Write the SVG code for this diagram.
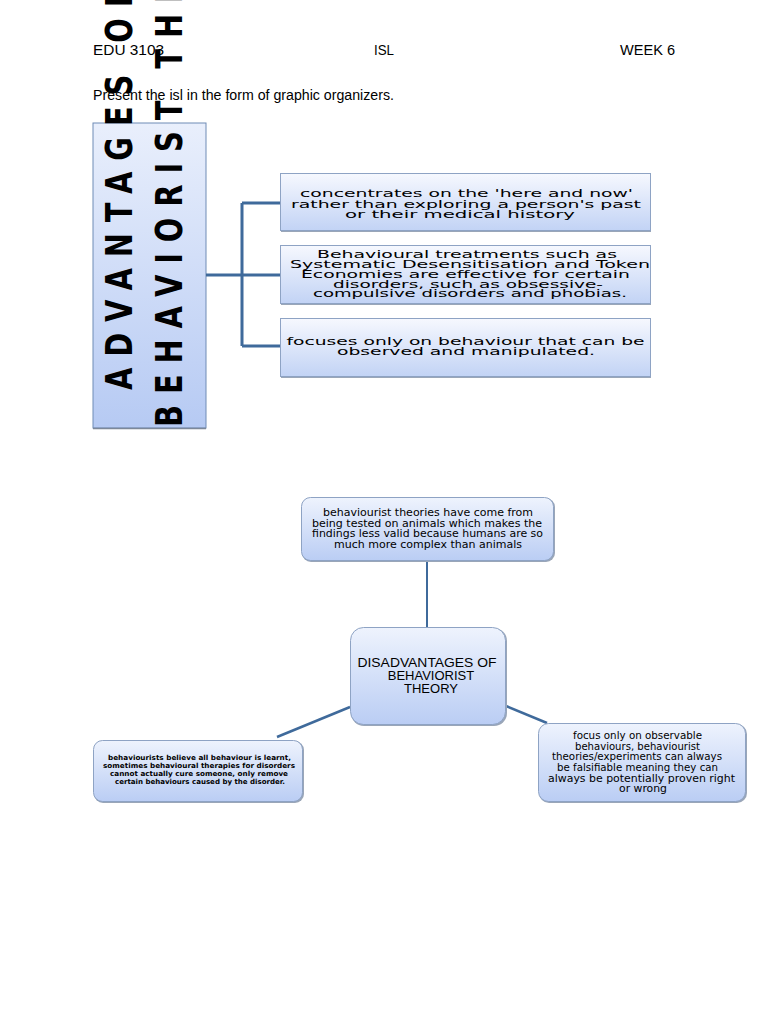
<svg xmlns="http://www.w3.org/2000/svg" width="768" height="1024" viewBox="0 0 768 1024">
<defs>
<linearGradient id="gBig" x1="0" y1="0" x2="0" y2="1">
<stop offset="0" stop-color="#e9effc"/>
<stop offset="1" stop-color="#b6caf3"/>
</linearGradient>
<linearGradient id="gBox" x1="0" y1="0" x2="0" y2="1">
<stop offset="0" stop-color="#f6f8fe"/>
<stop offset="1" stop-color="#c2d3f5"/>
</linearGradient>
<linearGradient id="gRound" x1="0" y1="0" x2="0" y2="1">
<stop offset="0" stop-color="#eef3fd"/>
<stop offset="1" stop-color="#bacdf4"/>
</linearGradient>
<style>
.hdr{font-family:"Liberation Sans",Arial,sans-serif;font-size:14px;fill:#000}
.vert{font-family:"DejaVu Sans",Verdana,sans-serif;font-size:37px;font-weight:bold;letter-spacing:14px;fill:#000}
.bx{fill:url(#gBox);stroke:#8ea3c4;stroke-width:1}
.sh{fill:#9aa6b8}
.rnd{fill:url(#gRound);stroke:#8ea3c4;stroke-width:1}
.t1{font-family:"DejaVu Sans",Verdana,sans-serif;font-size:10px;fill:#000;text-anchor:start}
.t2{font-family:"DejaVu Sans",Verdana,sans-serif;font-size:10px;fill:#000}
.t3{font-family:"DejaVu Sans",Verdana,sans-serif;font-size:7px;font-weight:bold;fill:#000}
.tc{font-family:"Liberation Sans",Arial,sans-serif;font-size:13px;fill:#000;text-anchor:middle}
.ln{stroke:#3f6a9b;fill:none}
</style>
</defs>
<rect width="768" height="1024" fill="#ffffff"/>

<g id="header">
<text class="hdr" x="93" y="55" textLength="71" lengthAdjust="spacingAndGlyphs">EDU 3103</text>
<text class="hdr" x="374" y="55" textLength="20" lengthAdjust="spacingAndGlyphs">ISL</text>
<text class="hdr" x="620" y="55" textLength="55" lengthAdjust="spacingAndGlyphs">WEEK 6</text>
<text class="hdr" x="93" y="100" textLength="301" lengthAdjust="spacingAndGlyphs">Present the isl in the form of graphic organizers.</text>
</g>

<g id="advantages-title">
<rect x="93" y="123" width="113" height="305" fill="url(#gBig)" stroke="#6f8bb5" stroke-width="1"/>
<line x1="93" y1="428.5" x2="206" y2="428.5" stroke="#7d8899" stroke-width="1.5"/>
<text class="vert" transform="translate(132,390) rotate(-90) scale(0.78,1)">ADVANTAGES OF</text>
<text class="vert" transform="translate(182,427) rotate(-90) scale(0.78,1)">BEHAVIORIST THEORY</text>
</g>

<g id="connectors">
<path class="ln" stroke-width="3" d="M206 275 H242 M242 203 V346 M242 203 H281 M242 275 H281 M242 346 H281"/>
<line class="ln" stroke-width="2" x1="427" y1="561" x2="427" y2="628"/>
<line class="ln" stroke-width="2.5" x1="350" y1="707" x2="277" y2="737"/>
<line class="ln" stroke-width="2.5" x1="506" y1="706" x2="547" y2="723"/>
</g>

<g id="adv1">
<rect class="sh" x="281" y="174" width="370" height="58"/>
<rect class="bx" x="280.5" y="173.5" width="370" height="57"/>
<text class="t1" x="300" y="197" textLength="333" lengthAdjust="spacingAndGlyphs">concentrates on the 'here and now'</text>
<text class="t1" x="291" y="207.5" textLength="350" lengthAdjust="spacingAndGlyphs">rather than exploring a person's past</text>
<text class="t1" x="345" y="217.5" textLength="230" lengthAdjust="spacingAndGlyphs">or their medical history</text>
</g>

<g id="adv2">
<rect class="sh" x="281" y="246" width="370" height="59"/>
<rect class="bx" x="280.5" y="245.5" width="370" height="58"/>
<text class="t1" x="317" y="258" textLength="300" lengthAdjust="spacingAndGlyphs">Behavioural treatments such as</text>
<text class="t1" x="290" y="268" textLength="360" lengthAdjust="spacingAndGlyphs">Systematic Desensitisation and Token</text>
<text class="t1" x="301" y="278" textLength="329" lengthAdjust="spacingAndGlyphs">Economies are effective for certain</text>
<text class="t1" x="333" y="287.5" textLength="270" lengthAdjust="spacingAndGlyphs">disorders, such as obsessive-</text>
<text class="t1" x="313" y="297" textLength="314" lengthAdjust="spacingAndGlyphs">compulsive disorders and phobias.</text>
</g>

<g id="adv3">
<rect class="sh" x="281" y="319" width="370" height="59"/>
<rect class="bx" x="280.5" y="318.5" width="370" height="58"/>
<text class="t1" x="286.5" y="345" textLength="358" lengthAdjust="spacingAndGlyphs">focuses only on behaviour that can be</text>
<text class="t1" x="337" y="355" textLength="258" lengthAdjust="spacingAndGlyphs">observed and manipulated.</text>
</g>

<g id="dis-top">
<rect class="sh" x="302" y="498" width="253" height="64" rx="9"/>
<rect class="rnd" x="301.5" y="497.5" width="252" height="63" rx="9"/>
<text class="t2" x="323" y="516" textLength="210" lengthAdjust="spacingAndGlyphs">behaviourist theories have come from</text>
<text class="t2" x="312" y="526.5" textLength="230" lengthAdjust="spacingAndGlyphs">being tested on animals  which makes the</text>
<text class="t2" x="312" y="537" textLength="231" lengthAdjust="spacingAndGlyphs">findings less valid because humans are so</text>
<text class="t2" x="334" y="547.5" textLength="188" lengthAdjust="spacingAndGlyphs">much more complex than animals</text>
</g>

<g id="dis-center">
<rect class="sh" x="351" y="628" width="156" height="98" rx="13"/>
<rect class="rnd" x="350.5" y="627.5" width="155" height="97" rx="13"/>
<text class="tc" x="427" y="667" textLength="139" lengthAdjust="spacingAndGlyphs">DISADVANTAGES OF</text>
<text class="tc" x="431" y="680">BEHAVIORIST</text>
<text class="tc" x="431" y="693">THEORY</text>
</g>

<g id="dis-left">
<rect class="sh" x="94" y="741" width="210" height="62" rx="9"/>
<rect class="rnd" x="93.5" y="740.5" width="209" height="61" rx="9"/>
<text class="t3" x="108" y="759.5" textLength="183" lengthAdjust="spacingAndGlyphs">behaviourists believe all behaviour is learnt,</text>
<text class="t3" x="103" y="767.5" textLength="192" lengthAdjust="spacingAndGlyphs">sometimes behavioural therapies for disorders</text>
<text class="t3" x="110" y="775.5" textLength="178" lengthAdjust="spacingAndGlyphs">cannot actually cure someone, only remove</text>
<text class="t3" x="115" y="783.5" textLength="170" lengthAdjust="spacingAndGlyphs">certain behaviours caused by the disorder.</text>
</g>

<g id="dis-right">
<rect class="sh" x="539" y="724" width="208" height="79" rx="10"/>
<rect class="rnd" x="538.5" y="723.5" width="207" height="78" rx="10"/>
<text class="t2" x="573" y="738.5" textLength="129" lengthAdjust="spacingAndGlyphs">focus only on observable</text>
<text class="t2" x="575" y="749.5" textLength="125" lengthAdjust="spacingAndGlyphs">behaviours, behaviourist</text>
<text class="t2" x="552" y="760" textLength="170" lengthAdjust="spacingAndGlyphs">theories/experiments can always</text>
<text class="t2" x="557" y="771" textLength="161" lengthAdjust="spacingAndGlyphs">be falsifiable meaning they can</text>
<text class="t2" x="548" y="781.5" textLength="187" lengthAdjust="spacingAndGlyphs">always be potentially proven right</text>
<text class="t2" x="619" y="791.5" textLength="48" lengthAdjust="spacingAndGlyphs">or wrong</text>
</g>
</svg>
